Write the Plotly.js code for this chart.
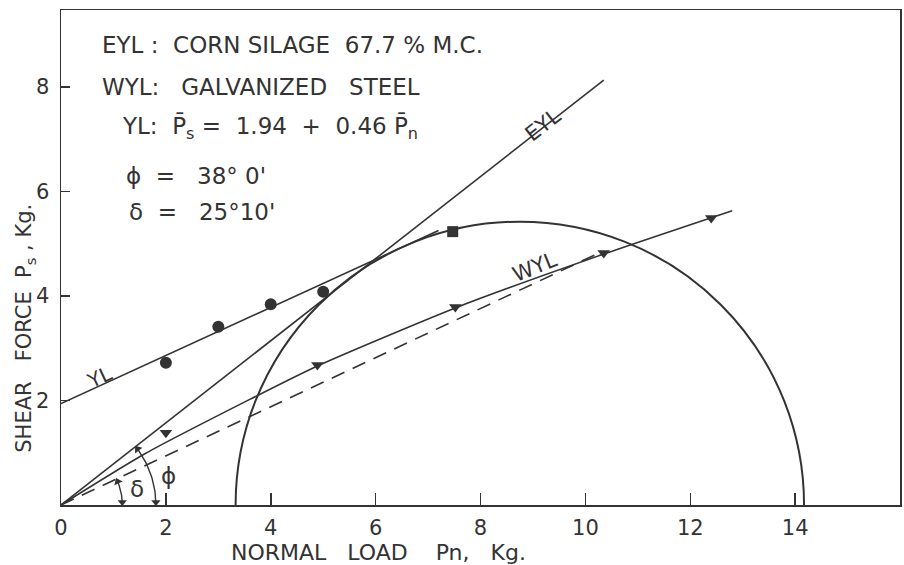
<!DOCTYPE html>
<html>
<head>
<meta charset="utf-8">
<script src="https://cdn.plot.ly/plotly-3.0.1.min.js"></script>
<style>html,body{margin:0;padding:0;background:#fff;}#chart{width:904px;height:565px;}</style>
</head>
<body>
<div id="chart"></div>
<script>
// ---- data ----
const xTickVals = [0, 2, 4, 6, 8, 10, 12, 14];
const xTickText = ["0", "2", "4", "6", "8", "10", "12", "14"];
const yTickVals = [2, 4, 6, 8];
const yTickText = ["2", "4", "6", "8"];

// yield locus YL : Ps = 1.94 + 0.46 Pn
const ylX = [0, 7.2];
const ylY = [1.94, 5.25];
// shear test points (circles)
const dotX = [2, 3, 4, 5];
const dotY = [2.72, 3.41, 3.84, 4.08];
// consolidation point (square)
const sqX = [7.47];
const sqY = [5.23];
// effective yield locus EYL
const eylX = [0, 10.35];
const eylY = [0, 8.13];
// wall yield locus WYL (solid)
const wylX = [0, 1.6, 3.6, 4.89, 7.52, 10.35, 12.8];
const wylY = [0, 0.98, 2.02, 2.66, 3.77, 4.80, 5.63];
// wall test points (triangles)
const triX = [2, 4.89, 7.52, 10.35, 12.4];
const triY = [1.38, 2.68, 3.79, 4.82, 5.49];
// straight wall friction line (dashed)
const dashX = [0, 10.3];
const dashY = [0, 4.84];
// Mohr circle: centre, radius
const mohrCentre = [8.75, 0];
const mohrRadius = [5.42];
// angles (degrees) and arc radii
const arcAngles = [38.0, 25 + 10 / 60];   // phi, delta
const arcRadii = [1.81, 1.17];

const INK = '#333333';
const FONT = 'DejaVu Sans';
const D2R = Math.PI / 180;

function arc(r, a) {
  const xs = [], ys = [];
  const n = 30;
  for (let i = 0; i <= n; i++) {
    const t = (a * i / n) * D2R;
    xs.push(r * Math.cos(t)); ys.push(r * Math.sin(t));
  }
  return {xs, ys};
}
const phiArc = arc(arcRadii[0], arcAngles[0]);
const delArc = arc(arcRadii[1], arcAngles[1]);

// arrowheads at the arc ends (markers placed just inside each end)
const headX = [], headY = [], headSym = [], headAng = [];
[[arcRadii[0], arcAngles[0]], [arcRadii[1], arcAngles[1]]].forEach(([r, a]) => {
  const d = 2.6 / r;
  headX.push(r * Math.cos((a - d * 1.2) * D2R)); headY.push(r * Math.sin((a - d * 1.2) * D2R));
  headSym.push('triangle-up'); headAng.push(-a);
  headX.push(r * Math.cos(d * D2R * 1.2)); headY.push(r * Math.sin(d * D2R * 1.2));
  headSym.push('triangle-down'); headAng.push(0);
});

const line = (w) => ({color: INK, width: w});

const traces = [
  {x: ylX, y: ylY, mode: 'lines', line: line(1.6), hoverinfo: 'skip'},
  {x: eylX, y: eylY, mode: 'lines', line: line(1.6), hoverinfo: 'skip'},
  {x: wylX, y: wylY, mode: 'lines', line: {color: INK, width: 1.6, shape: 'spline', smoothing: 0.6}, hoverinfo: 'skip'},
  {x: dashX, y: dashY, mode: 'lines', line: {color: INK, width: 1.6, dash: '14px,9px'}, hoverinfo: 'skip'},
  {x: phiArc.xs, y: phiArc.ys, mode: 'lines', line: line(1.4), hoverinfo: 'skip'},
  {x: delArc.xs, y: delArc.ys, mode: 'lines', line: line(1.4), hoverinfo: 'skip'},
  {x: headX, y: headY, mode: 'markers', marker: {symbol: headSym, angle: headAng, size: 8, color: INK}, hoverinfo: 'skip'},
  {x: dotX, y: dotY, mode: 'markers', marker: {symbol: 'circle', size: 12, color: INK}, hoverinfo: 'skip'},
  {x: sqX, y: sqY, mode: 'markers', marker: {symbol: 'square', size: 11, color: INK}, hoverinfo: 'skip'},
  {x: triX, y: triY, mode: 'markers', marker: {symbol: 'triangle-down', size: 11, color: INK}, hoverinfo: 'skip'}
];

const tfont = (s) => ({family: FONT, size: s, color: INK});
const NB = '\u00a0';
const sp = (n) => NB.repeat(n);
const leftNote = (x, y, text, size) => ({x: x, y: y, xref: 'x', yref: 'y', xanchor: 'left', yanchor: 'middle',
  align: 'left', showarrow: false, text: text, font: tfont(size)});

const annotations = [
  leftNote(0.74, 8.80, 'EYL' + sp(1) + ':' + sp(2) + 'CORN' + sp(1) + 'SILAGE' + sp(2) + '67.7' + sp(1) + '%' + sp(1) + 'M.C.', 23),
  leftNote(0.74, 8.00, 'WYL:' + sp(3) + 'GALVANIZED' + sp(3) + 'STEEL', 23),
  leftNote(1.13, 7.23, 'YL:' + sp(2) + 'P\u0304<sub>s</sub>' + sp(1) + '=' + sp(2) + '1.94' + sp(2) + '+' + sp(2) + '0.46' + sp(1) + 'P\u0304<sub>n</sub>', 23),
  leftNote(1.20, 6.29, '\u03d5' + sp(2) + '=' + sp(3) + '38°' + sp(1) + '0\'', 23),
  leftNote(1.25, 5.60, '\u03b4' + sp(2) + '=' + sp(3) + '25°10\'', 23),
  {x: 9.19, y: 7.27, xref: 'x', yref: 'y', showarrow: false, text: 'EYL', textangle: -38, font: tfont(21)},
  {x: 9.04, y: 4.55, xref: 'x', yref: 'y', showarrow: false, text: 'WYL', textangle: -22, font: tfont(21)},
  {x: 0.74, y: 2.45, xref: 'x', yref: 'y', showarrow: false, text: 'YL', textangle: -25, font: tfont(20)},
  {x: 1.45, y: 0.30, xref: 'x', yref: 'y', showarrow: false, text: '\u03b4', font: tfont(23)},
  {x: 2.05, y: 0.55, xref: 'x', yref: 'y', showarrow: false, text: '\u03d5', font: tfont(23)},
  {x: 0.378, y: -0.095, xref: 'paper', yref: 'paper', showarrow: false, yanchor: 'middle',
   text: 'NORMAL' + sp(3) + 'LOAD' + sp(4) + 'Pn,' + sp(3) + 'Kg.', font: tfont(22)},
  {x: -0.043, y: 0.358, xref: 'paper', yref: 'paper', showarrow: false, textangle: -90, xanchor: 'center', yanchor: 'middle',
   text: 'SHEAR' + sp(3) + 'FORCE' + sp(2) + 'P<sub>s</sub>' + sp(1) + ',' + sp(1) + 'Kg.', font: tfont(21)}
];

const shapes = [
  {type: 'circle', xref: 'x', yref: 'y',
   x0: mohrCentre[0] - mohrRadius[0], x1: mohrCentre[0] + mohrRadius[0],
   y0: mohrCentre[1] - mohrRadius[0], y1: mohrCentre[1] + mohrRadius[0],
   line: {color: INK, width: 2}, layer: 'above'}
];

const axisCommon = {
  showgrid: false, zeroline: false, showline: true, linecolor: INK, linewidth: 1.5, mirror: true,
  ticks: 'inside', tickcolor: INK, tickwidth: 1.5, tickfont: tfont(21), fixedrange: true
};

const layout = {
  width: 904, height: 565,
  margin: {l: 61, r: 4, t: 10, b: 60, pad: 0},
  paper_bgcolor: '#ffffff', plot_bgcolor: '#ffffff',
  showlegend: false,
  xaxis: Object.assign({}, axisCommon, {range: [0, 16], tickvals: xTickVals, ticktext: xTickText, ticklen: 12, ticklabelstandoff: 3}),
  yaxis: Object.assign({}, axisCommon, {range: [0, 9.47], tickvals: yTickVals, ticktext: yTickText, ticklen: 9, ticklabelstandoff: 6}),
  annotations: annotations,
  shapes: shapes
};

Plotly.newPlot('chart', traces, layout, {staticPlot: true, displayModeBar: false});
</script>
</body>
</html>
